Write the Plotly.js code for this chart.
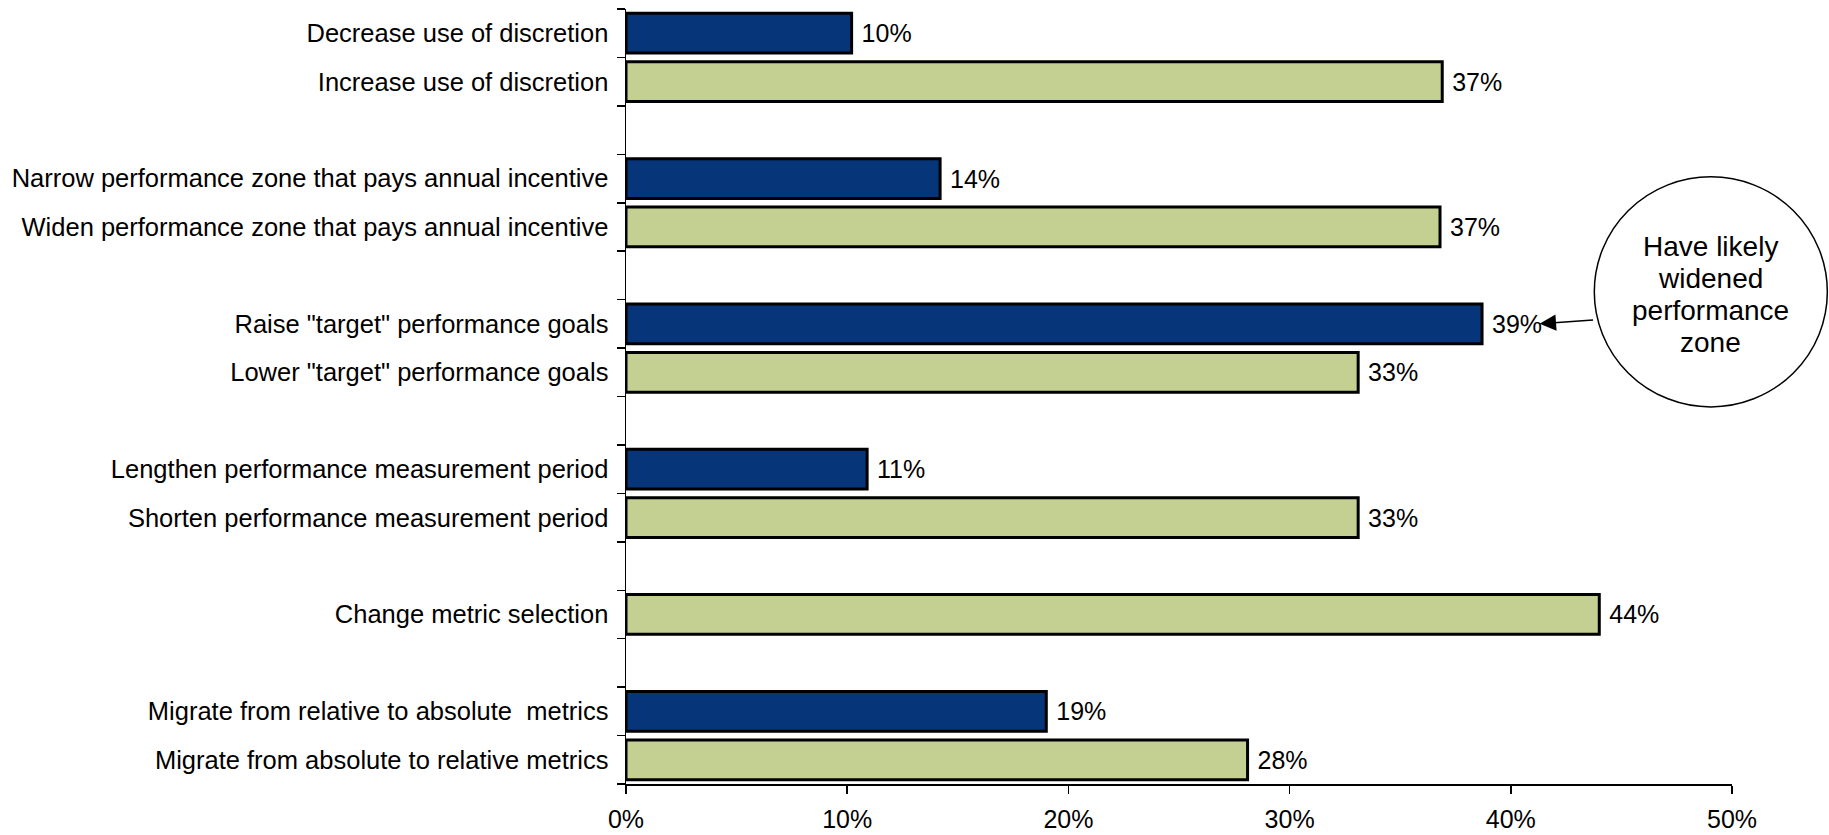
<!DOCTYPE html>
<html>
<head>
<meta charset="utf-8">
<script src="https://cdn.plot.ly/plotly-3.0.1.min.js"></script>
<style>
  html, body { margin: 0; padding: 0; background: #ffffff; }
  #chart { width: 1829px; height: 835px; }
</style>
</head>
<body>
<div id="chart"></div>
<script>
// Row order of the category axis, top to bottom ('' = empty spacer row)
const rowOrder = [
  'Decrease use of discretion',
  'Increase use of discretion',
  '',
  'Narrow performance zone that pays annual incentive',
  'Widen performance zone that pays annual incentive',
  '',
  'Raise "target" performance goals',
  'Lower "target" performance goals',
  '',
  'Lengthen performance measurement period',
  'Shorten performance measurement period',
  '',
  'Change metric selection',
  '',
  'Migrate from relative to absolute  metrics',
  'Migrate from absolute to relative metrics'
];

// Dark blue series
const blueLabels = [
  'Decrease use of discretion',
  'Narrow performance zone that pays annual incentive',
  'Raise "target" performance goals',
  'Lengthen performance measurement period',
  'Migrate from relative to absolute  metrics'
];
const blueValues = [10.2, 14.2, 38.7, 10.9, 19.0];

// Light green series
const greenLabels = [
  'Increase use of discretion',
  'Widen performance zone that pays annual incentive',
  'Lower "target" performance goals',
  'Shorten performance measurement period',
  'Change metric selection',
  'Migrate from absolute to relative metrics'
];
const greenValues = [36.9, 36.8, 33.1, 33.1, 44.0, 28.1];

const xTickValues = [0, 10, 20, 30, 40, 50];
const calloutLines = ['Have likely', 'widened', 'performance', 'zone'];

const FONT = 'Arial, "Liberation Sans", Helvetica, sans-serif';

const rowIndex = l => rowOrder.indexOf(l);
const labelRows = [];
const labelTexts = [];
rowOrder.forEach((l, i) => { if (l !== '') { labelRows.push(i); labelTexts.push(l); } });
const boundaries = [];
for (let i = 0; i <= rowOrder.length; i++) boundaries.push(i - 0.5);

const barStyle = (color) => ({
  type: 'bar',
  orientation: 'h',
  width: 0.82,
  marker: { color: color, line: { color: '#000000', width: 3 } },
  textposition: 'outside',
  texttemplate: ' %{x:.0f}%',
  textfont: { family: FONT, size: 25, color: '#000000' },
  cliponaxis: false,
  hoverinfo: 'skip',
  showlegend: false
});

const traces = [
  Object.assign(barStyle('#06357A'), { x: blueValues, y: blueLabels.map(rowIndex) }),
  Object.assign(barStyle('#C4D091'), { x: greenValues, y: greenLabels.map(rowIndex) })
];

const raiseRow = rowIndex('Raise "target" performance goals');

// callout text lines, centred in the circle
const lineGap = 32;
const calloutAnnotations = calloutLines.map((t, i) => ({
  xref: 'paper', yref: 'paper',
  x: 0.9808, y: 0.6320,
  xanchor: 'center', yanchor: 'middle',
  yshift: -((i - (calloutLines.length - 1) / 2) * lineGap),
  text: t,
  showarrow: false,
  font: { family: FONT, size: 28, color: '#000000' }
}));

const layout = {
  width: 1829,
  height: 835,
  margin: { l: 626, r: 97, t: 9, b: 51, pad: 0 },
  paper_bgcolor: '#ffffff',
  plot_bgcolor: '#ffffff',
  font: { family: FONT, size: 25, color: '#000000' },
  showlegend: false,
  xaxis: {
    range: [0, 50],
    tickmode: 'array',
    tickvals: xTickValues,
    ticktext: xTickValues.map(v => v + '%'),
    ticks: 'outside',
    ticklen: 8,
    tickwidth: 1.5,
    tickcolor: '#000000',
    ticklabelstandoff: 4,
    showline: true,
    linecolor: '#000000',
    linewidth: 1.5,
    showgrid: false,
    zeroline: false,
    tickfont: { family: FONT, size: 25, color: '#000000' },
    fixedrange: true
  },
  yaxis: {
    range: [rowOrder.length - 0.5, -0.5],
    tickmode: 'array',
    tickvals: labelRows,
    ticktext: labelTexts,
    ticks: '',
    ticklabelstandoff: 11,
    showline: true,
    linecolor: '#000000',
    linewidth: 1.5,
    showgrid: false,
    zeroline: false,
    tickfont: { family: FONT, size: 25.5, color: '#000000' },
    minor: {
      tickmode: 'array',
      tickvals: boundaries,
      ticks: 'outside',
      ticklen: 8,
      tickwidth: 1.5,
      tickcolor: '#000000',
      showgrid: false
    },
    fixedrange: true
  },
  shapes: [
    {
      type: 'circle',
      xref: 'paper', yref: 'paper',
      x0: 0.8755, x1: 1.0862,
      y0: 0.4866, y1: 0.7835,
      line: { color: '#000000', width: 1.5 },
      fillcolor: 'rgba(255,255,255,0)'
    }
  ],
  annotations: calloutAnnotations.concat([
    {
      xref: 'x', yref: 'y',
      x: 41.3, y: raiseRow,
      ax: 55, ay: -4,
      axref: 'pixel', ayref: 'pixel',
      text: '',
      showarrow: true,
      arrowhead: 2,
      arrowsize: 2.2,
      arrowwidth: 1.5,
      arrowcolor: '#000000',
      standoff: 0
    }
  ])
};

Plotly.newPlot('chart', traces, layout, { displayModeBar: false, staticPlot: true });
</script>
</body>
</html>
